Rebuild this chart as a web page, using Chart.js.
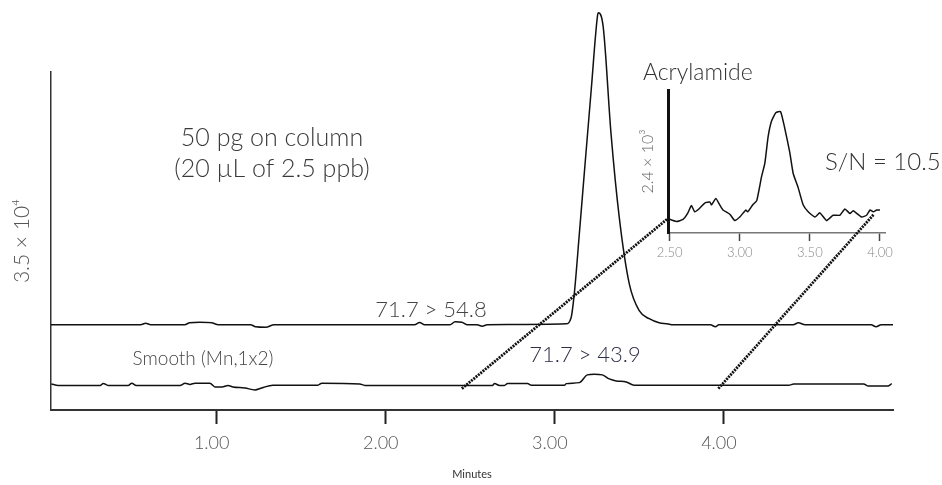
<!DOCTYPE html>
<html><head><meta charset="utf-8">
<script src="https://cdn.jsdelivr.net/npm/chart.js@4.4.1/dist/chart.umd.min.js"></script>
<style>
html,body{margin:0;padding:0;background:#fff;}
#wrap{position:relative;width:942px;height:485px;}
canvas{position:absolute;left:0;top:0;}
</style></head><body>
<div id="wrap"><canvas id="main" width="942" height="485"></canvas><canvas id="inset" width="942" height="485"></canvas></div>
<script>
// ---- data (time in minutes, intensity in arbitrary units) ----
const upperTimes = [0.02,0.55,0.58,0.61,0.81,0.84,0.90,0.97,1.01,1.20,1.23,1.29,1.34,2.17,2.20,2.23,2.38,2.41,2.45,2.48,2.54,2.57,2.60,3.066,3.096,3.115,3.145,3.180,3.215,3.253,3.257,3.286,3.332,3.381,3.440,3.499,3.558,3.617,3.664,3.70,3.92,3.95,3.97,4.41,4.44,4.48,4.87,4.90,4.93,5.00];
const upperValues = [85,85,86.5,85,85,87,87.5,87,85,85,83,82.5,85,85,87.3,85,85,88,87.5,85,85,83.5,85,86,92,116,176,248,319,394,396,382,276,192,126,99,91,87,86,85,85,83,85,85,87,85,85,83,85,85];
const lowerTimes = [0.022,0.063,0.311,0.329,0.358,0.476,0.498,0.524,0.783,0.813,0.842,0.872,0.960,0.990,1.031,1.067,1.096,1.167,1.226,1.267,1.332,1.598,1.622,1.846,1.876,2.631,2.643,2.672,2.702,2.720,2.838,2.861,3.056,3.068,3.145,3.192,3.233,3.281,3.322,3.363,3.422,3.469,4.384,4.413,4.827,4.851,4.969,4.993];
const lowerValues = [26,24.5,24.5,26.5,24.5,24.5,26.7,24.5,24.5,26.7,25.5,26.7,26.7,23,23,24.5,23,22,20,22,24.7,24.7,26.7,26,24.5,24.5,26.3,24.5,24.5,26.3,26.3,24.7,24.7,26.3,27.3,35,35.7,35,31,29,28,24.7,24.7,26,26,24,24,26.3];
const insetTimes = [2.488,2.548,2.595,2.629,2.655,2.679,2.714,2.75,2.786,2.798,2.829,2.857,2.881,2.929,2.964,3.0,3.043,3.057,3.093,3.121,3.155,3.179,3.202,3.226,3.257,3.291,3.321,3.357,3.381,3.416,3.452,3.488,3.536,3.571,3.619,3.666,3.714,3.75,3.786,3.809,3.869,3.905,3.929,3.952,3.976,4.0];
const insetValues = [13.7,11,13,19,26.3,20.3,23.7,28.7,29.7,27,33,27,22,18,12,15.3,22,20.3,27,31,53.7,67,92,107,115.3,116.3,100.3,77,57,43.7,27,20.3,15.3,19.3,12,17,17,23,18.7,21.3,15.3,17,22,20.3,22,22];
const mainTicks = [1, 2, 3, 4];
const insetTicks = [2.5, 3, 3.5, 4];
const mainYTitle = '3.5 × 10⁴';
const insetYTitle = '2.4 × 10³';

const FONT = 'Lato, "Open Sans", sans-serif';
Chart.defaults.font.family = FONT;
Chart.defaults.font.weight = '300';

const pairs = (xs, ys) => xs.map((x, i) => ({x, y: ys[i]}));

const mainTexts = [
  {text: '50 pg on column', x: 272, y: 146, size: 25, color: '#3a3a3a', align: 'center'},
  {text: '(20 µL of 2.5 ppb)', x: 272, y: 177, size: 25, color: '#3a3a3a', align: 'center'},
  {text: '71.7 > 54.8', x: 431, y: 317, size: 22, color: '#444', align: 'center'},
  {text: '71.7 > 43.9', x: 585, y: 362, size: 22, color: '#2e2e48', align: 'center'},
  {text: 'Smooth (Mn,1x2)', x: 203, y: 365, size: 19, color: '#444', align: 'center'},
  {text: 'Acrylamide', x: 643, y: 80, size: 23, color: '#333', align: 'left'},
  {text: 'S/N = 10.5', x: 825, y: 170, size: 24, color: '#333', align: 'left'}
];

const textPlugin = {
  id: 'texts',
  afterDraw(chart) {
    const ctx = chart.ctx;
    ctx.save();
    mainTexts.forEach(t => {
      ctx.font = `300 ${t.size}px ${FONT}`;
      ctx.fillStyle = t.color;
      ctx.textAlign = t.align;
      ctx.textBaseline = 'alphabetic';
      ctx.fillText(t.text, t.x, t.y);
    });
    ctx.restore();
  }
};

const mainChart = new Chart(document.getElementById('main'), {
  type: 'line',
  data: {
    datasets: [
      {data: pairs(upperTimes, upperValues), borderColor: '#111', borderWidth: 1.5, pointRadius: 0, cubicInterpolationMode: 'monotone', clip: false},
      {data: pairs(lowerTimes, lowerValues), borderColor: '#111', borderWidth: 1.5, pointRadius: 0, cubicInterpolationMode: 'monotone', clip: false}
    ]
  },
  options: {
    responsive: false, animation: false, devicePixelRatio: 1,
    layout: {padding: {left: 0, right: 49, top: 72, bottom: 4.4}},
    plugins: {legend: {display: false}, tooltip: {enabled: false}},
    scales: {
      x: {
        type: 'linear', min: 0.02, max: 5.0,
        afterBuildTicks: s => { s.ticks = mainTicks.map(v => ({value: v})); },
        afterFit: s => { s.paddingLeft = 0; s.paddingRight = 0; },
        grid: {display: true, drawOnChartArea: false, drawTicks: true, tickLength: 14, tickWidth: 2, tickColor: '#222'},
        border: {display: true, color: '#333', width: 2},
        ticks: {autoSkip: false, maxRotation: 0, padding: 8, labelOffset: -5, color: '#555', font: {size: 18}, callback: v => Number(v).toFixed(2)},
        title: {display: true, text: 'Minutes', color: '#333', font: {size: 11, weight: 'normal'}, padding: {top: 5.8, bottom: 0}}
      },
      y: {
        type: 'linear', min: 0, max: 337,
        grid: {display: false, drawTicks: false},
        ticks: {display: false},
        border: {display: true, color: '#333', width: 1.5},
        title: {display: true, text: mainYTitle, color: '#555', font: {size: 21}, padding: {top: 9.4, bottom: 16.4}}
      }
    }
  },
  plugins: [textPlugin]
});

const connectors = [
  {from: [2.45, 21.3], to: [2.488, 14]},
  {from: [3.967, 21.3], to: [3.957, 18]}
];

const connectorPlugin = {
  id: 'connectors',
  afterDatasetsDraw(chart) {
    const ctx = chart.ctx;
    const mx = mainChart.scales.x, my = mainChart.scales.y;
    const ix = chart.scales.x, iy = chart.scales.y;
    ctx.save();
    ctx.strokeStyle = '#111';
    ctx.lineWidth = 2.8;
    ctx.setLineDash([2, 1]);
    connectors.forEach(c => {
      ctx.beginPath();
      ctx.moveTo(mx.getPixelForValue(c.from[0]), my.getPixelForValue(c.from[1]));
      ctx.lineTo(ix.getPixelForValue(c.to[0]), iy.getPixelForValue(c.to[1]));
      ctx.stroke();
    });
    ctx.restore();
  }
};

const insetChart = new Chart(document.getElementById('inset'), {
  type: 'line',
  data: {
    datasets: [
      {data: pairs(insetTimes, insetValues), borderColor: '#111', borderWidth: 1.5, pointRadius: 0, tension: 0.15, clip: false}
    ]
  },
  options: {
    responsive: false, animation: false, devicePixelRatio: 1,
    layout: {padding: {left: 630, right: 57, top: 90, bottom: 220.4}},
    plugins: {legend: {display: false}, tooltip: {enabled: false}},
    scales: {
      x: {
        type: 'linear', min: 2.488, max: 4.036,
        afterBuildTicks: s => { s.ticks = insetTicks.map(v => ({value: v})); },
        afterFit: s => { s.paddingLeft = 0; s.paddingRight = 0; },
        grid: {display: true, drawOnChartArea: false, drawTicks: true, tickLength: 8, tickWidth: 1.5, tickColor: '#444'},
        border: {display: true, color: '#777', width: 1.5},
        ticks: {autoSkip: false, maxRotation: 0, padding: 4, color: '#888', font: {size: 13}, callback: v => Number(v).toFixed(2)}
      },
      y: {
        type: 'linear', min: 0, max: 137,
        grid: {display: false, drawTicks: false},
        ticks: {display: false},
        border: {display: true, color: '#111', width: 3},
        title: {display: true, text: insetYTitle, color: '#666', font: {size: 16}, padding: {top: 8.4, bottom: 10.4}}
      }
    }
  },
  plugins: [connectorPlugin]
});
</script>
</body></html>
